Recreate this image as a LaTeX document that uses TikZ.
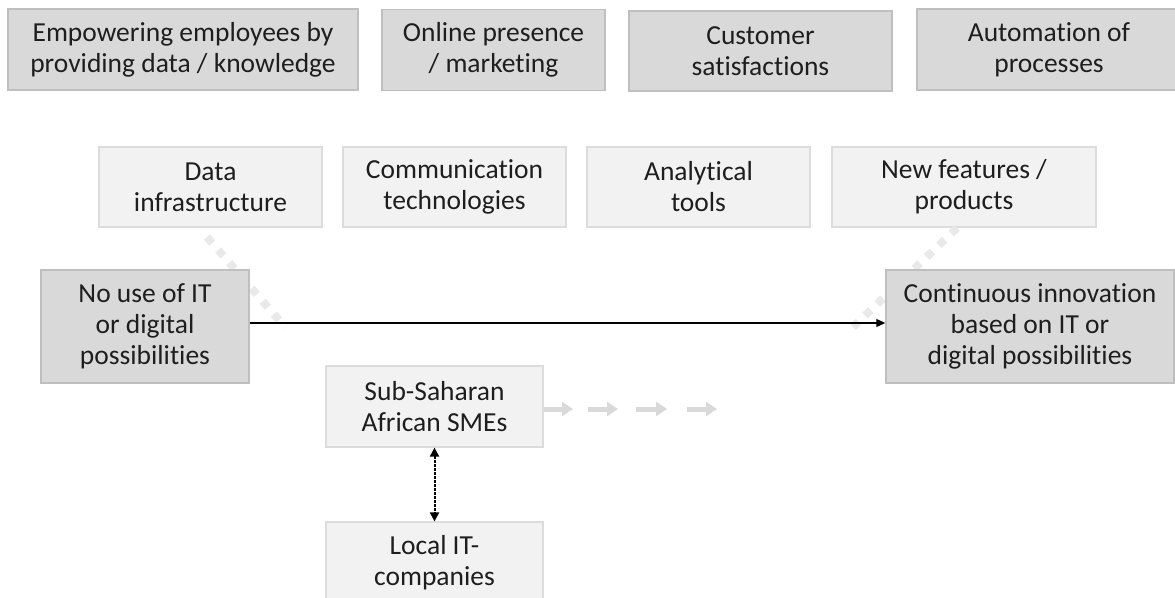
\documentclass[tikz,border=0pt]{standalone}
\usepackage{fontspec}
\setmainfont{Carlito}[Ligatures=NoCommon]
\usetikzlibrary{arrows.meta}
\definecolor{darkfill}{HTML}{D9D9D9}
\definecolor{darkline}{HTML}{BFBFBF}
\definecolor{lightfill}{HTML}{F2F2F2}
\definecolor{lightline}{HTML}{DCDCDC}
\definecolor{txt}{HTML}{1E1E1E}
\definecolor{dotgray}{HTML}{E9E9E9}
\definecolor{arrgray}{HTML}{D9D9D9}
\begin{document}
\begin{tikzpicture}[x=1pt,y=-1pt,
  font=\fontsize{27.5}{31}\selectfont, text=txt,
  darkbox/.style={draw=darkline, line width=1.5pt, fill=darkfill, inner sep=0pt, align=center},
  lightbox/.style={draw=lightline, line width=1.2pt, fill=lightfill, inner sep=0pt, align=center},
  dotline/.style={draw=dotgray, line width=8pt, dash pattern=on 8pt off 9pt},
  grayarrow/.style={draw=arrgray, line width=5pt, -{Triangle[length=11pt,width=14pt]}},
]
\useasboundingbox (0,0) rectangle (1175,597);
\begin{scope}
\clip (0,0) rectangle (1175,597);
% top row
\node[darkbox, minimum width=350, minimum height=81] (t1) at (183,49.5) {Empowering employees by\\providing data / knowledge};
\node[darkbox, minimum width=223, minimum height=81] (t2) at (493.5,50) {Online presence\\/ marketing};
\node[darkbox, minimum width=263, minimum height=80] (t3) at (760.5,51) {Customer\\satisfactions};
\node[darkbox, minimum width=264, minimum height=81] (t4) at (1049,49.5) {Automation of\\processes};
% second row
\node[lightbox, minimum width=223, minimum height=80] (s1) at (210.5,187) {Data\\infrastructure};
\node[lightbox, minimum width=223, minimum height=80] (s2) at (454.5,187) {Communication\\technologies};
\node[lightbox, minimum width=223, minimum height=80] (s3) at (698.5,187) {Analytical\\tools};
\node[lightbox, minimum width=264, minimum height=80] (s4) at (964,187) {New features /\\products};
% dotted diagonal lines
\coordinate (d1a) at (207,237);
\coordinate (d1b) at (285,327);
\coordinate (d2a) at (957,228);
\coordinate (d2b) at (853,327);
\draw[dotline] (d1a) -- (d1b);
\draw[dotline] (d2a) -- (d2b);
% side boxes
\node[darkbox, minimum width=208, minimum height=113] (L) at (145,326.5) {No use of IT\\or digital\\possibilities};
\node[darkbox, minimum width=288, minimum height=113] (R) at (1030,326.5) {Continuous innovation\\based on IT or\\digital possibilities};
\draw[line width=1.3pt, -{Triangle[length=9pt,width=8pt]}] ([yshift=3.5pt]L.east) -- ([yshift=3.5pt]R.west);
% SMEs
\node[lightbox, minimum width=217, minimum height=81] (S) at (434.5,406.5) {Sub-Saharan\\African SMEs};
\node[lightbox, minimum width=217, minimum height=81] (C) at (434.5,562.5) {Local IT-\\companies};
\draw[line width=2pt, dash pattern=on 2.5pt off 1.5pt, {Triangle[length=9pt,width=9pt]}-{Triangle[length=9pt,width=9pt]}] (S.south) -- (C.north);
% gray arrows
\coordinate (g1) at (573,409);
\coordinate (g2a) at (588,409);
\coordinate (g2b) at (618,409);
\coordinate (g3a) at (636,409);
\coordinate (g3b) at (667,409);
\coordinate (g4a) at (687,409);
\coordinate (g4b) at (717,409);
\draw[grayarrow] (S.east |- g1) -- (g1);
\draw[grayarrow] (g2a) -- (g2b);
\draw[grayarrow] (g3a) -- (g3b);
\draw[grayarrow] (g4a) -- (g4b);
\end{scope}
\end{tikzpicture}
\end{document}
